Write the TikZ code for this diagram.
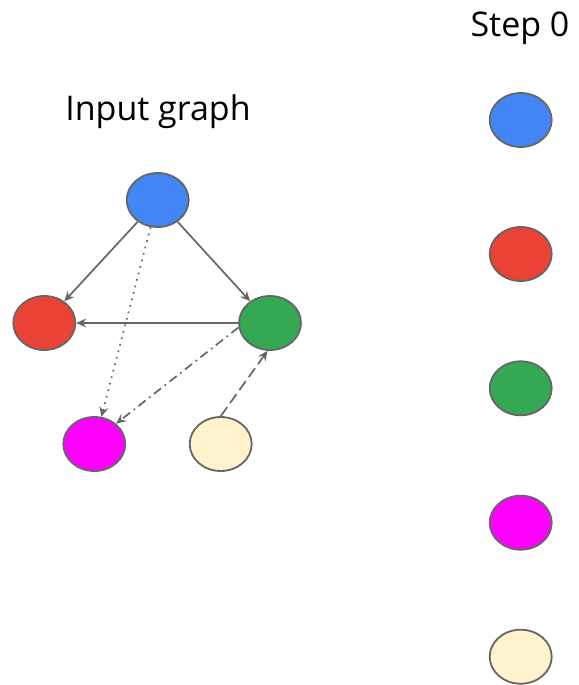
\documentclass[tikz,border=0pt]{standalone}
\usepackage{fontspec}
\setmainfont{Open Sans}
\usetikzlibrary{arrows.meta,shapes.geometric}
\definecolor{gblue}{HTML}{4285F4}
\definecolor{gred}{HTML}{EA4335}
\definecolor{ggreen}{HTML}{34A853}
\definecolor{gmagenta}{HTML}{FF00FF}
\definecolor{gcream}{HTML}{FFF2CC}
\definecolor{edgegray}{HTML}{666666}
\tikzset{
  vertex/.style={ellipse, draw=edgegray, line width=1.8pt,
    minimum width=62pt, minimum height=54pt, inner sep=0pt},
  link/.style={draw=edgegray, line width=1.7pt,
    -{Stealth[length=10pt,width=9pt,inset=3.5pt]}},
  titletext/.style={font=\fontsize{34}{40}\selectfont, anchor=base},
}
\begin{document}
\begin{tikzpicture}[x=1pt,y=-1pt]
\useasboundingbox (0,0) rectangle (578,685);
% titles
\node[titletext] (title) at (158,120) {Input graph};
\node[titletext] (step) at (520,37) {Step 0};
% input graph
\node[vertex, fill=gblue]    (a) at (157.7,200) {};
\node[vertex, fill=gred]     (b) at (44.3,323) {};
\node[vertex, fill=ggreen]   (c) at (270,323) {};
\node[vertex, fill=gmagenta] (d) at (94.3,444) {};
\node[vertex, fill=gcream]   (e) at (220.7,444) {};
\draw[link] (a) -- (b);
\draw[link] (a) -- (c);
\draw[link] (c) -- (b);
\draw[link, dash pattern=on 1.7pt off 5pt] (a) -- (d);
\draw[link, dash pattern=on 9pt off 4.5pt on 1.7pt off 4.5pt] (c.188) -- (d.43);
\draw[link, dash pattern=on 11pt off 5pt] (e.north) -- (c.265);
% step 0 column
\node[vertex, fill=gblue]    (s1) at (520.7,120) {};
\node[vertex, fill=gred]     (s2) at (520.7,254) {};
\node[vertex, fill=ggreen]   (s3) at (520.7,388.3) {};
\node[vertex, fill=gmagenta] (s4) at (520.7,522.7) {};
\node[vertex, fill=gcream]   (s5) at (520.7,656.7) {};
\end{tikzpicture}
\end{document}
